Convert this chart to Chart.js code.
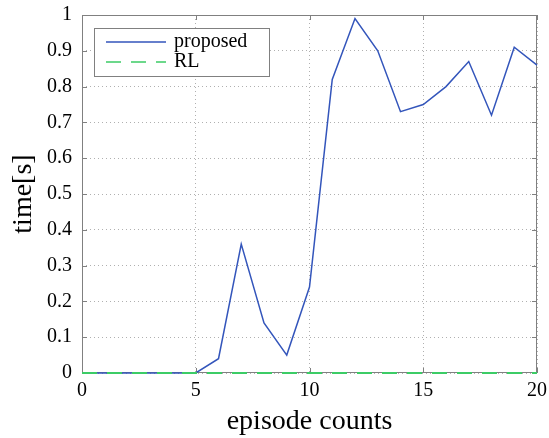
<!DOCTYPE html>
<html>
<head>
<meta charset="utf-8">
<script src="https://cdn.jsdelivr.net/npm/chart.js@4.4.0/dist/chart.umd.min.js"></script>
<style>
  body { margin: 0; background: #fff; }
  #wrap { width: 549px; height: 438px; }
</style>
</head>
<body>
<div id="wrap"><canvas id="myChart" width="549" height="438"></canvas></div>
<script>
// episode index 0..20
const episodes = [0, 1, 2, 3, 4, 5, 6, 7, 8, 9, 10, 11, 12, 13, 14, 15, 16, 17, 18, 19, 20];
const proposed = [0, 0, 0, 0, 0, 0, 0.04, 0.36, 0.14, 0.05, 0.24, 0.82, 0.99, 0.90, 0.73, 0.75, 0.80, 0.87, 0.72, 0.91, 0.86];
const rl = [0, 0, 0, 0, 0, 0, 0, 0, 0, 0, 0, 0, 0, 0, 0, 0, 0, 0, 0, 0, 0];
const xTicks = [0, 5, 10, 15, 20];
const yTicks = [0, 0.1, 0.2, 0.3, 0.4, 0.5, 0.6, 0.7, 0.8, 0.9, 1];

const serif = "'Liberation Serif', 'DejaVu Serif', serif";

// box round the plot and inward ticks, under the lines
const boxPlugin = {
  id: 'box',
  beforeDatasetsDraw(chart) {
    const ctx = chart.ctx;
    const a = chart.chartArea;
    const xs = chart.scales.x, ys = chart.scales.y;
    ctx.save();
    ctx.strokeStyle = '#808080';
    ctx.lineWidth = 1;
    ctx.strokeRect(a.left + 0.5, a.top + 0.5, a.right - a.left - 1, a.bottom - a.top - 1);
    ctx.beginPath();
    xTicks.forEach(v => {
      const px = Math.round(xs.getPixelForValue(v)) + 0.5;
      ctx.moveTo(px, a.bottom); ctx.lineTo(px, a.bottom - 5);
      ctx.moveTo(px, a.top); ctx.lineTo(px, a.top + 5);
    });
    yTicks.forEach(v => {
      const py = Math.round(ys.getPixelForValue(v)) + 0.5;
      ctx.moveTo(a.left, py); ctx.lineTo(a.left + 5, py);
      ctx.moveTo(a.right, py); ctx.lineTo(a.right - 5, py);
    });
    ctx.stroke();
    ctx.restore();
  },
  // legend inside the axes
  afterDatasetsDraw(chart) {
    const ctx = chart.ctx;
    const a = chart.chartArea;
    ctx.save();
    const lx = a.left + 12, ly = a.top + 13;
    ctx.fillStyle = '#fff';
    ctx.fillRect(lx, ly, 175, 48);
    ctx.strokeStyle = '#808080';
    ctx.lineWidth = 1;
    ctx.strokeRect(lx + 0.5, ly + 0.5, 175, 48);
    ctx.font = '20px ' + serif;
    ctx.textBaseline = 'middle';
    chart.data.datasets.forEach((ds, i) => {
      const y = ly + 14 + i * 20;
      ctx.strokeStyle = ds.borderColor;
      ctx.lineWidth = 1.5;
      ctx.setLineDash(ds.borderDash || []);
      ctx.beginPath();
      ctx.moveTo(lx + 12, y); ctx.lineTo(lx + 72, y);
      ctx.stroke();
      ctx.setLineDash([]);
      ctx.fillStyle = '#000';
      ctx.fillText(ds.label, lx + 80, y);
    });
    ctx.restore();
  }
};

const ctx = document.getElementById('myChart');
new Chart(ctx, {
  type: 'line',
  data: {
    labels: episodes,
    datasets: [
      {
        label: 'proposed',
        data: episodes.map((e, i) => ({ x: e, y: proposed[i] })),
        borderColor: '#3355bb',
        borderWidth: 1.5,
        pointRadius: 0,
        tension: 0,
        clip: 3,
        order: 1
      },
      {
        label: 'RL',
        data: episodes.map((e, i) => ({ x: e, y: rl[i] })),
        borderColor: '#3ccc66',
        borderWidth: 2,
        borderDash: [15, 10],
        pointRadius: 0,
        tension: 0,
        clip: 3,
        order: 0
      }
    ]
  },
  options: {
    responsive: false,
    animation: false,
    layout: { padding: { left: 7, right: 12, top: 15, bottom: 0 } },
    plugins: {
      legend: { display: false },
      tooltip: { enabled: false }
    },
    scales: {
      x: {
        type: 'linear',
        min: 0,
        max: 20,
        afterBuildTicks: s => { s.ticks = xTicks.map(v => ({ value: v })); },
        afterFit: s => { s.height = 65; s.paddingLeft = 0; s.paddingRight = 0; },
        ticks: { color: '#000', font: { family: serif, size: 20 }, padding: 6, maxRotation: 0, callback: v => String(v) },
        grid: { color: '#b0b0b0', drawTicks: false },
        border: { display: false, dash: [1, 3] },
        title: { display: true, text: 'episode counts', color: '#000', font: { family: serif, size: 28 }, padding: { top: 0, bottom: 0 } }
      },
      y: {
        min: 0,
        max: 1,
        afterBuildTicks: s => { s.ticks = yTicks.map(v => ({ value: v })); },
        afterFit: s => { s.width = 75; s.paddingTop = 0; s.paddingBottom = 0; },
        ticks: { color: '#000', font: { family: serif, size: 20 }, padding: 10, callback: v => String(v) },
        grid: { color: '#b0b0b0', drawTicks: false },
        border: { display: false, dash: [1, 3] },
        title: { display: true, text: 'time[s]', color: '#000', font: { family: serif, size: 28 }, padding: { top: 0, bottom: 6 } }
      }
    }
  },
  plugins: [boxPlugin]
});
</script>
</body>
</html>
